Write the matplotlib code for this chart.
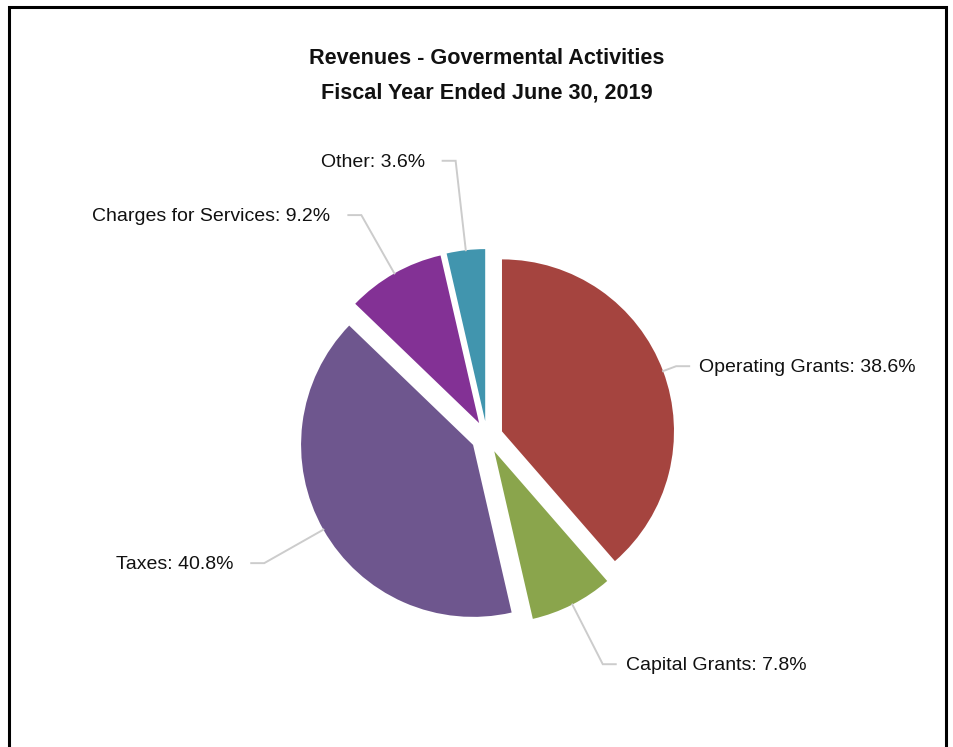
import numpy as np
import matplotlib
matplotlib.use("Agg")
import matplotlib.pyplot as plt
from matplotlib import font_manager
from matplotlib.patches import Rectangle

# Revenue shares, fiscal year 2019
categories = ["Operating Grants", "Capital Grants", "Taxes", "Charges for Services", "Other"]
shares = [38.6, 7.8, 40.8, 9.2, 3.6]
colors = ["#A5443F", "#8AA54C", "#6E568E", "#833195", "#4195AE"]
title_lines = ["Revenues - Govermental Activities", "Fiscal Year Ended June 30, 2019"]

# Canvas in pixel units (y grows upward)
W, H = 954, 747
cx, cy = 487, H - 437
radius = 172
offset = 16
leader_len = [14, 67, 68, 67, 90]

available = {f.name for f in font_manager.fontManager.ttflist}
base_font = "Liberation Sans Narrow" if "Liberation Sans Narrow" in available else "Liberation Sans"
plt.rcParams["font.family"] = [base_font, "DejaVu Sans"]

fig = plt.figure(figsize=(W / 100, H / 100), dpi=100)
ax = fig.add_axes([0, 0, 1, 1])

wedges, _ = ax.pie(shares, colors=colors, startangle=90, counterclock=False,
                   radius=radius, center=(cx, cy), explode=[offset] * len(shares),
                   frame=True, wedgeprops=dict(linewidth=0))

ax.set_xlim(0, W)
ax.set_ylim(0, H)
ax.set_aspect("equal")
ax.axis("off")

# Leader lines and labels
for w, name, val, L in zip(wedges, categories, shares, leader_len):
    mid = np.deg2rad(0.5 * (w.theta1 + w.theta2))
    d = np.array([np.cos(mid), np.sin(mid)])
    c = np.array(w.center)
    arc = c + w.r * d
    elbow = arc + L * d
    sign = 1 if d[0] > 0 else -1
    end = elbow + np.array([sign * 13, 0])
    ax.plot([arc[0], elbow[0], end[0]], [arc[1], elbow[1], end[1]],
            color="#CCCCCC", lw=1.4, solid_joinstyle="miter", zorder=1)
    gap = 10 if sign > 0 else 18
    ax.text(end[0] + sign * gap, end[1] - 1.5, f"{name}: {val}%",
            ha="left" if sign > 0 else "right", va="center",
            fontsize=14, color="#111111")

# Title
ax.text(W / 2 + 10, H - 58, title_lines[0], ha="center", va="center",
        fontsize=15.6, fontweight="bold", color="#111111")
ax.text(W / 2 + 10, H - 93, title_lines[1], ha="center", va="center",
        fontsize=15.6, fontweight="bold", color="#111111")

# Outer frame
ax.add_patch(Rectangle((9.5, -20), 937, H - 6.5 + 20, fill=False,
                       edgecolor="black", lw=2.2, clip_on=False))

fig.savefig("out.png", dpi=100)
